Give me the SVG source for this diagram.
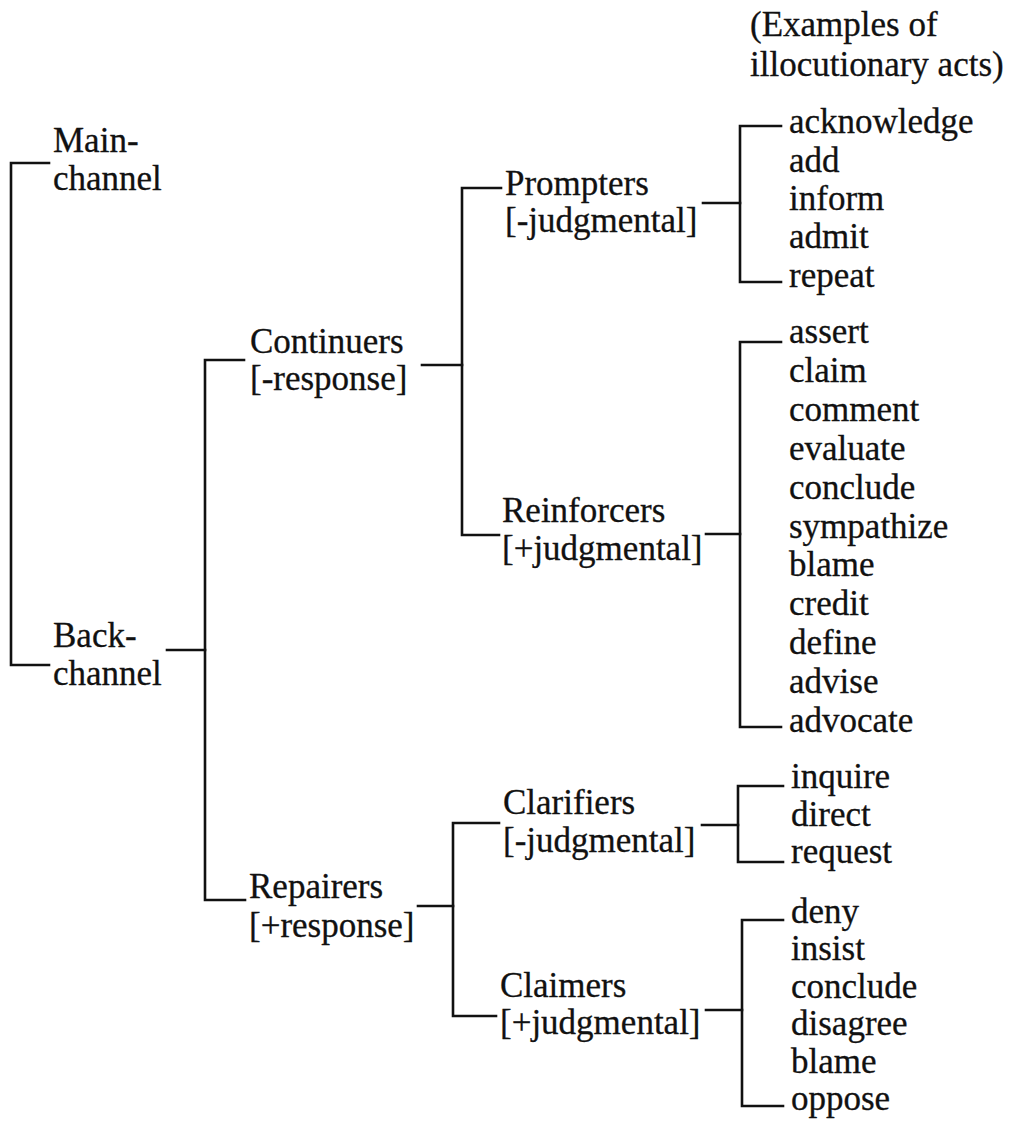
<svg xmlns="http://www.w3.org/2000/svg" width="1010" height="1124" viewBox="0 0 1010 1124">
  <style>
    text { font-family: "Liberation Serif", "Times New Roman", serif; font-size: 35px; fill: #111; stroke: #111; stroke-width: 0.3; }
    .wire { fill: none; stroke: #111; stroke-width: 2.6; stroke-linecap: square; }
  </style>
  <rect width="1010" height="1124" fill="#fff"/>

  <!-- tree connectors: brackets and joining stubs -->
  <g id="connectors">
    <path class="wire" d="M49,163 H11 V665 H49"/>
    <path class="wire" d="M167,650 H205"/>
    <path class="wire" d="M244,360 H205 V900 H245"/>
    <path class="wire" d="M422,365 H462"/>
    <path class="wire" d="M501,188 H462 V535 H499"/>
    <path class="wire" d="M703,203 H740"/>
    <path class="wire" d="M781,126 H740 V282 H781"/>
    <path class="wire" d="M706,534 H740"/>
    <path class="wire" d="M781,342 H740 V727 H781"/>
    <path class="wire" d="M418,906 H453"/>
    <path class="wire" d="M499,823 H453 V1016 H496"/>
    <path class="wire" d="M702,825 H738"/>
    <path class="wire" d="M783,786 H738 V862 H783"/>
    <path class="wire" d="M706,1010 H742"/>
    <path class="wire" d="M783,920 H742 V1106 H783"/>
  </g>

  <g id="header">
    <text x="750" y="36">(Examples of</text>
    <text x="750" y="76">illocutionary acts)</text>
  </g>

  <g id="main-channel">
    <text x="53" y="152">Main-</text>
    <text x="53" y="190">channel</text>
  </g>

  <g id="back-channel">
    <text x="53" y="647">Back-</text>
    <text x="53" y="685">channel</text>
  </g>

  <g id="continuers">
    <text x="250" y="353">Continuers</text>
    <text x="250" y="390">[-response]</text>
  </g>

  <g id="repairers">
    <text x="249" y="898">Repairers</text>
    <text x="249" y="937">[+response]</text>
  </g>

  <g id="prompters">
    <text x="505" y="195">Prompters</text>
    <text x="505" y="232">[-judgmental]</text>
  </g>

  <g id="reinforcers">
    <text x="502" y="522">Reinforcers</text>
    <text x="502" y="560">[+judgmental]</text>
  </g>

  <g id="clarifiers">
    <text x="503" y="814">Clarifiers</text>
    <text x="503" y="852">[-judgmental]</text>
  </g>

  <g id="claimers">
    <text x="500" y="997">Claimers</text>
    <text x="500" y="1034">[+judgmental]</text>
  </g>

  <g id="prompter-acts">
    <text x="789" y="133">acknowledge</text>
    <text x="789" y="172">add</text>
    <text x="789" y="210">inform</text>
    <text x="789" y="248">admit</text>
    <text x="789" y="287">repeat</text>
  </g>

  <g id="reinforcer-acts">
    <text x="789" y="343">assert</text>
    <text x="789" y="382">claim</text>
    <text x="789" y="421">comment</text>
    <text x="789" y="460">evaluate</text>
    <text x="789" y="499">conclude</text>
    <text x="789" y="538">sympathize</text>
    <text x="789" y="576">blame</text>
    <text x="789" y="615">credit</text>
    <text x="789" y="654">define</text>
    <text x="789" y="693">advise</text>
    <text x="789" y="732">advocate</text>
  </g>

  <g id="clarifier-acts">
    <text x="791" y="788">inquire</text>
    <text x="791" y="826">direct</text>
    <text x="791" y="863">request</text>
  </g>

  <g id="claimer-acts">
    <text x="791" y="923">deny</text>
    <text x="791" y="960">insist</text>
    <text x="791" y="998">conclude</text>
    <text x="791" y="1035">disagree</text>
    <text x="791" y="1073">blame</text>
    <text x="791" y="1110">oppose</text>
  </g>
</svg>
